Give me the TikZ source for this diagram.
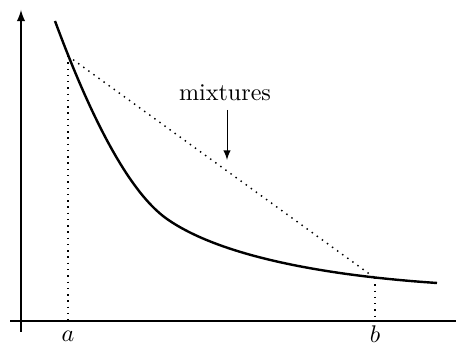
\documentclass[tikz,border=0pt]{standalone}
\usepackage{xcolor}
\usetikzlibrary{arrows}
\usetikzlibrary{math}

\begin{document}
\begin{tikzpicture}[x=0.415pt,y=0.415pt]
\tikzmath{
\xa=68;
\xb=375;
\yo=26;
}
\useasboundingbox (0,0) rectangle (456,347);

% axes
\draw[line width=0.6pt,-latex] (21,15) -- (21,337);
\draw[line width=0.6pt] (10,\yo) -- (456,\yo);

% curve
\draw[line width=1pt] (55,326) .. controls (92,226) and (130,154) .. (167,128)
  .. controls (227,86) and (347,70) .. (437,64);

\coordinate (pa) at (\xa,291);
\coordinate (pb) at (\xb,69);
\coordinate (fa) at (\xa,\yo);
\coordinate (fb) at (\xb,\yo);

% chord and feet
\draw[dotted,line width=0.6pt] (pa) -- (pb);
\draw[dotted,line width=0.6pt] (pa) -- (fa);
\draw[dotted,line width=0.6pt] (pb) -- (fb);

\node[anchor=base,inner sep=0pt] (la) at (\xa,5) {$a$};
\node[anchor=base,inner sep=0pt] (lb) at (\xb,4) {$b$};

\node[anchor=base] (mix) at (225,246) {mixtures};
\coordinate (tip) at (227,187);
\draw[-latex] (mix.south -| tip) -- (tip);

\end{tikzpicture}
\end{document}
